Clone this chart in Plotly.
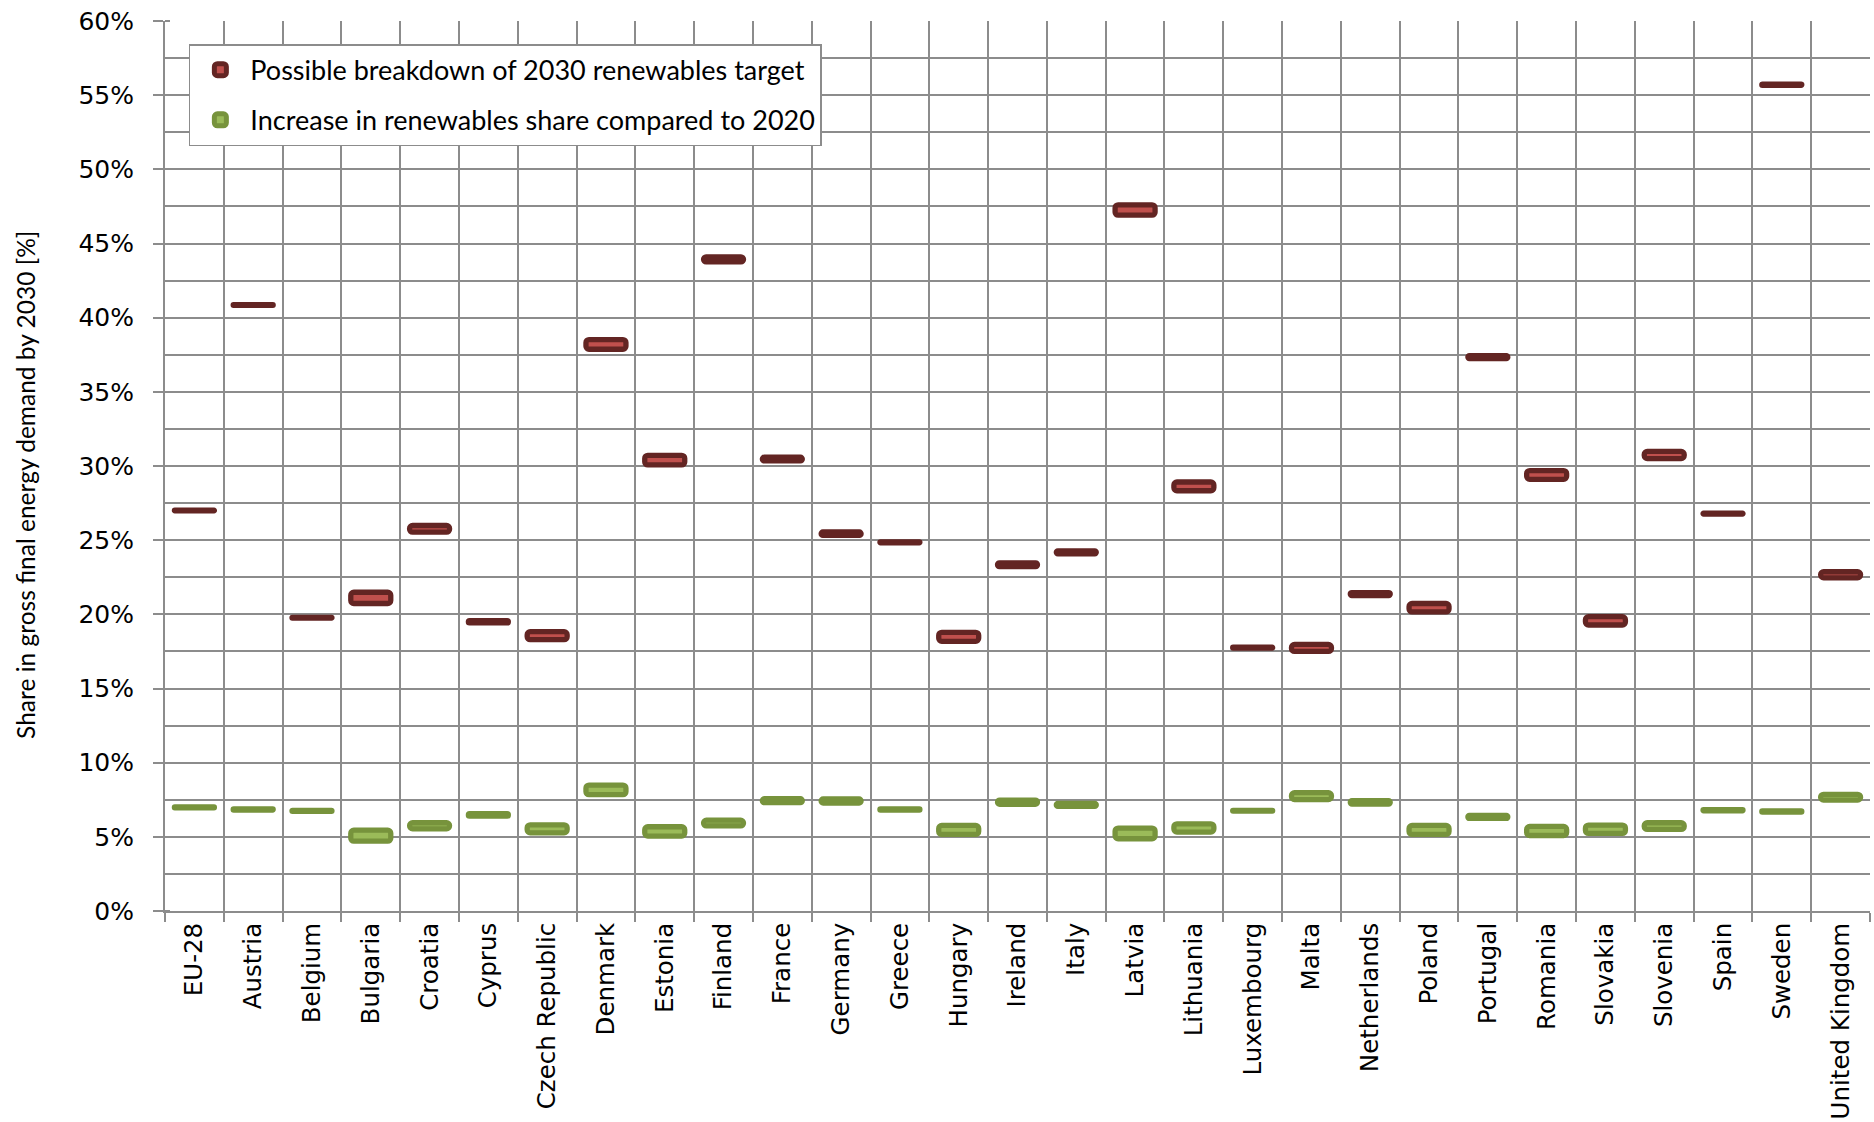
import plotly.graph_objects as go

# Member states (plus EU-28 aggregate)
countries = [
    "EU-28", "Austria", "Belgium", "Bulgaria", "Croatia", "Cyprus",
    "Czech Republic", "Denmark", "Estonia", "Finland", "France", "Germany",
    "Greece", "Hungary", "Ireland", "Italy", "Latvia", "Lithuania",
    "Luxembourg", "Malta", "Netherlands", "Poland", "Portugal", "Romania",
    "Slovakia", "Slovenia", "Spain", "Sweden", "United Kingdom",
]

# Possible breakdown of the 2030 renewables target: lower / upper bound [%]
target_low = [
    26.98, 40.83, 19.75, 20.73, 25.54, 19.42, 18.29, 37.87, 30.07, 43.76,
    30.34, 25.32, 24.82, 18.18, 23.22, 24.08, 46.91, 28.33, 17.73, 17.50,
    21.26, 20.16, 37.24, 29.10, 19.28, 30.50, 26.76, 55.67, 22.46,
]
target_high = [
    27.02, 40.87, 19.80, 21.49, 25.99, 19.58, 18.83, 38.52, 30.72, 44.10,
    30.59, 25.55, 24.89, 18.79, 23.47, 24.28, 47.61, 28.92, 17.78, 17.97,
    21.47, 20.73, 37.44, 29.69, 19.84, 30.98, 26.82, 55.75, 22.87,
]

# Increase in renewables share compared to 2020: lower / upper bound [%-points]
increase_low = [
    6.96, 6.81, 6.72, 4.71, 5.54, 6.40, 5.27, 7.84, 5.05, 5.74,
    7.30, 7.28, 6.81, 5.16, 7.19, 7.05, 4.87, 5.32, 6.73, 7.51,
    7.21, 5.16, 6.24, 5.09, 5.23, 5.50, 6.76, 6.67, 7.48,
]
increase_high = [
    7.01, 6.88, 6.79, 5.45, 5.95, 6.56, 5.81, 8.49, 5.68, 6.12,
    7.57, 7.55, 6.88, 5.77, 7.48, 7.25, 5.59, 5.88, 6.78, 7.98,
    7.44, 5.77, 6.44, 5.70, 5.79, 5.95, 6.83, 6.74, 7.86,
]

y_ticks = list(range(0, 61, 5))
y_ticktext = [f"{v}%" for v in y_ticks]

GRID = "#8c8c8c"
Y_TICK_FONT = dict(family="DejaVu Sans, Verdana, sans-serif", size=25, color="#000000")
X_TICK_FONT = dict(family="DejaVu Sans, Verdana, sans-serif", size=24.5, color="#000000")
TEXT_FONT = dict(family="Lato, Carlito, sans-serif", size=27, color="#000000")


def range_bar(name, low, high, fill, edge, group):
    return go.Bar(
        name=name,
        x=countries,
        base=low,
        y=[h - l for l, h in zip(low, high)],
        width=0.68,
        legendgroup=group,
        marker=dict(color=fill, line=dict(color=edge, width=5.3), cornerradius=3),
        hoverinfo="x+name",
    )


fig = go.Figure()
fig.add_trace(range_bar("Possible breakdown of 2030 renewables target",
                        target_low, target_high, "#C0504D", "#632523", "a"))
fig.add_trace(range_bar("Increase in renewables share compared to 2020",
                        increase_low, increase_high, "#9BBB59", "#77933C", "b"))

fig.update_layout(
    width=1874,
    height=1122,
    margin=dict(l=165, r=4, t=21, b=211),
    paper_bgcolor="white",
    plot_bgcolor="white",
    barmode="overlay",
    showlegend=True,
    legend=dict(
        x=0.014, y=0.974, xanchor="left", yanchor="top",
        bgcolor="white", bordercolor=GRID, borderwidth=1.5,
        font=TEXT_FONT, tracegroupgap=12, itemwidth=50,
    ),
    xaxis=dict(
        type="category",
        tickson="boundaries",
        tickangle=-90,
        tickfont=X_TICK_FONT,
        showgrid=True, gridcolor=GRID, gridwidth=2,
        showline=True, linecolor=GRID, linewidth=2,
        ticks="outside", ticklen=9, tickcolor=GRID, tickwidth=2,
        range=[-0.5, 28.5],
    ),
    yaxis=dict(
        range=[0, 60],
        tickvals=y_ticks,
        ticktext=y_ticktext,
        tickfont=Y_TICK_FONT,
        showgrid=True, gridcolor=GRID, gridwidth=2,
        showline=True, linecolor=GRID, linewidth=2,
        ticks="outside", ticklen=10, tickcolor=GRID, tickwidth=2,
        ticklabelstandoff=14,
        zeroline=False,
        minor=dict(dtick=2.5, showgrid=True, gridcolor=GRID, gridwidth=2,
                   ticks="inside", ticklen=5, tickcolor=GRID, tickwidth=2),
    ),
    annotations=[
        dict(
            text="Share in gross final energy demand by 2030 [%]",
            xref="paper", yref="paper", x=-0.082, y=0.479,
            xanchor="center", yanchor="middle", textangle=-90,
            showarrow=False,
            font=dict(family="Lato, Carlito, sans-serif", size=24.5, color="#000000"),
        )
    ],
)

fig.write_html("out.html")
